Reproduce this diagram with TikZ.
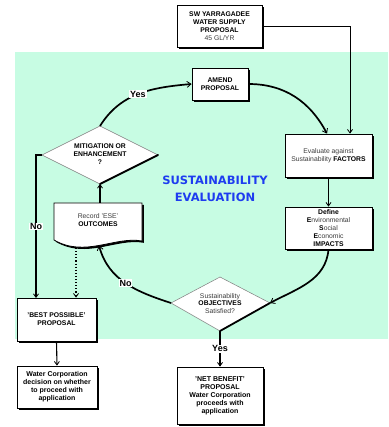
\documentclass[tikz,border=0pt]{standalone}
\usepackage{fontspec}
\setmainfont{Liberation Sans}
\newfontfamily\titlefont{DejaVu Sans}
\usetikzlibrary{arrows.meta,shadows}

\definecolor{evalgreen}{RGB}{199,252,227}
\definecolor{titleblue}{RGB}{30,60,240}
\definecolor{softtext}{RGB}{60,60,60}
\definecolor{edgegray}{RGB}{125,125,125}

\newcommand{\plain}[1]{{\mdseries\color{softtext}#1}}

\tikzset{
  flowbox/.style={draw=black, line width=0.8pt, fill=white, align=center,
    inner sep=1pt, font=\fontsize{6.8}{7.9}\selectfont\bfseries,
    drop shadow={shadow xshift=1.8pt, shadow yshift=-1.8pt, fill=black, opacity=1}},
  boxtext/.style={align=center, inner sep=0pt, font=\fontsize{6.8}{7.9}\selectfont\bfseries},
  cycleflow/.style={line width=1.7pt,
    -{Straight Barb[length=4pt,width=6pt,line width=0.8pt]}},
  link/.style={line width=1.1pt, -{Straight Barb[length=3.5pt,width=5pt,line width=0.8pt]}},
  thinlink/.style={line width=0.8pt, -{Straight Barb[length=3.5pt,width=5pt]}},
  answer/.style={fill=white, inner sep=0.8pt, font=\fontsize{9}{9}\selectfont\bfseries},
  decision/.style={fill=white, draw=edgegray, line width=0.5pt},
}

\begin{document}
\begin{tikzpicture}[x=1pt, y=1pt]
  \useasboundingbox (0,0) rectangle (388,-427);

  % evaluation panel
  \fill[evalgreen] (15,-52) rectangle (388,-339);

  % title
  \node[text=titleblue, font=\titlefont\bfseries\fontsize{11.5}{17}\selectfont, align=center]
    (title) at (215,-189) {SUSTAINABILITY\\EVALUATION};

  % boxes
  \node[flowbox, minimum width=85pt, minimum height=42pt] (src) at (219.5,-26)
    {SW YARRAGADEE\\WATER SUPPLY\\PROPOSAL\\\plain{45 GL/YR}};
  \node[flowbox, minimum width=56pt, minimum height=32pt] (amend) at (220,-84)
    {AMEND\\PROPOSAL};
  \node[flowbox, minimum width=87pt, minimum height=43pt] (eval) at (328.5,-155.5)
    {\plain{Evaluate against}\\\plain{Sustainability} FACTORS};
  \node[flowbox, minimum width=87pt, minimum height=42pt] (define) at (328.5,-228)
    {Define\\E\plain{nvironmental}\\S\plain{ocial}\\E\plain{conomic}\\IMPACTS};
  \node[flowbox, minimum width=79pt, minimum height=43pt] (best) at (56.5,-319.5)
    {'BEST POSSIBLE'\\PROPOSAL};
  \node[flowbox, minimum width=80pt, minimum height=42pt, font=\fontsize{7}{7.9}\selectfont\bfseries]
    (water) at (57,-387)
    {Water Corporation\\decision on whether\\to proceed with\\application};
  \node[flowbox, minimum width=86pt, minimum height=57pt, font=\fontsize{7}{8}\selectfont\bfseries]
    (net) at (220,-395.5)
    {'NET BENEFIT'\\PROPOSAL\\Water Corporation\\proceeds with\\application};

  % record document shape
  \fill[black, shift={(1.8,-1.8)}] (54,-203) -- (142,-203) -- (142,-241)
    .. controls (115,-236) and (85,-258) .. (54,-240) -- cycle;
  \filldraw[fill=white, draw=black, line width=0.8pt] (54,-203) -- (142,-203) -- (142,-241)
    .. controls (115,-236) and (85,-258) .. (54,-240) -- cycle;
  \node[boxtext] (rec) at (98,-220.5) {\plain{Record 'ESE'}\\OUTCOMES};
  \coordinate (rectop) at (100,-203);
  \coordinate (recin) at (99,-245.5);
  \coordinate (recdot) at (76,-248);

  % mitigation decision
  \coordinate (mt) at (100,-126);
  \coordinate (mr) at (158,-155);
  \coordinate (mb) at (100,-184);
  \coordinate (ml) at (42,-155);
  \filldraw[decision] (mt) -- (mr) -- (mb) -- (ml) -- cycle;
  \draw[line width=1.8pt, line cap=round] (mb) -- (mr);
  \node[boxtext] (mitig) at (100,-154) {MITIGATION OR\\ENHANCEMENT\\?};

  % objectives decision
  \coordinate (st) at (220,-277);
  \coordinate (sr) at (270,-303);
  \coordinate (sb) at (220,-331);
  \coordinate (sl) at (171,-303);
  \filldraw[decision] (st) -- (sr) -- (sb) -- (sl) -- cycle;
  \draw[line width=1.8pt, line cap=round] (sb) -- (sr);
  \node[boxtext] (obj) at (220,-303.5) {\plain{Sustainability}\\OBJECTIVES\\\plain{Satisfied?}};

  % evaluation cycle
  \draw[cycleflow] (mt) to[out=58, in=185] node[answer, pos=0.49] {Yes} (amend.west);
  \draw[cycleflow] (amend.east) to[out=0, in=118] ([xshift=-1.5pt]eval.north);
  \draw[link] (eval.south) -- (define.north);
  \draw[cycleflow] (define.south) to[out=-95, in=28] (sr);
  \draw[cycleflow] (sl) to[out=162, in=-75] node[answer, pos=0.5] {No} (recin);
  \draw[link] (rectop) -- (mb);

  % entry and exits
  \draw[thinlink] (src.east) -| ([xshift=21.5pt]eval.north);
  \draw[link] (ml) -- (36,-155) -- node[answer, pos=0.5] {No} (36,-298);
  \draw[link, dotted] (recdot) -- (recdot |- best.north);
  \draw[link] (best.south) -- (water.north);
  \draw[link] (sb) -- node[answer, pos=0.5] {Yes} (net.north);
\end{tikzpicture}
\end{document}
